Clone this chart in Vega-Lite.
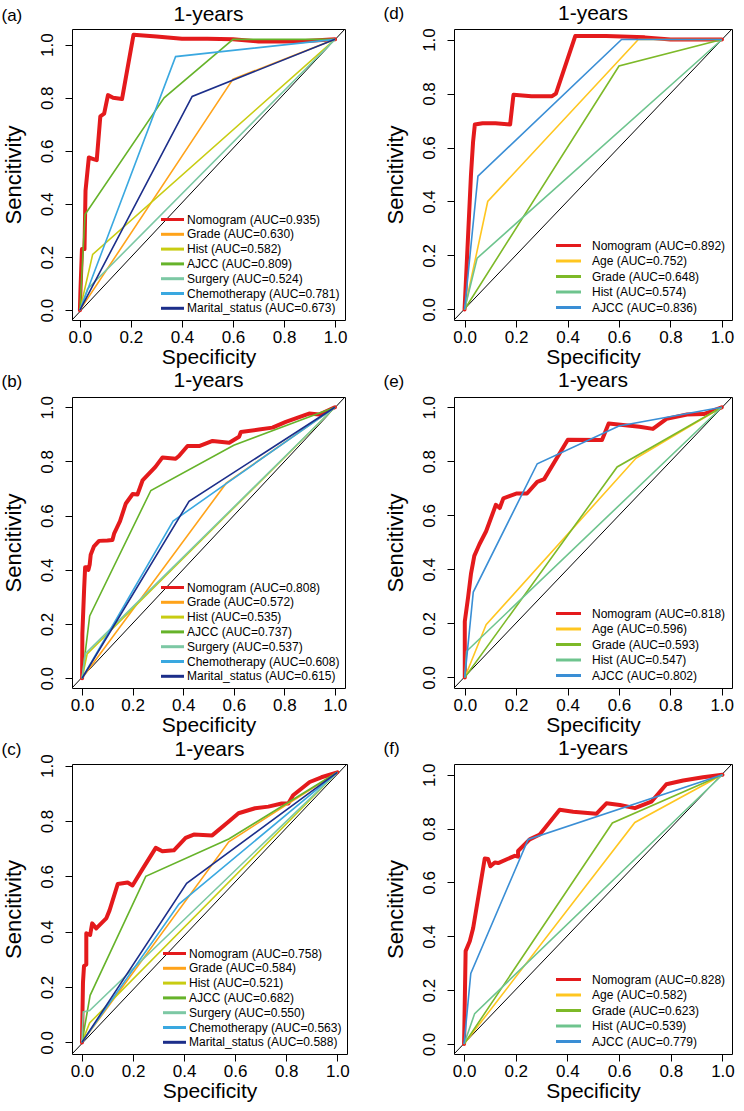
{
"$schema": "https://vega.github.io/schema/vega-lite/v6.json",
"background": "white",
"padding": {"left": 1, "top": 2, "right": 0, "bottom": 0},
"datasets": {
"diag_a": [{"x": -0.031, "y": -0.037}, {"x": 1.039, "y": 1.059}],
"diag_b": [{"x": -0.04, "y": -0.036}, {"x": 1.04, "y": 1.038}],
"diag_c": [{"x": -0.039, "y": -0.042}, {"x": 1.038, "y": 1.006}],
"diag_d": [{"x": -0.041, "y": -0.039}, {"x": 1.039, "y": 1.039}],
"diag_e": [{"x": -0.042, "y": -0.039}, {"x": 1.04, "y": 1.038}],
"diag_f": [{"x": -0.039, "y": -0.037}, {"x": 1.037, "y": 1.04}],
"a": [
{"s":"Nomogram (AUC=0.935)","i":0,"x":0,"y":0},
{"s":"Nomogram (AUC=0.935)","i":1,"x":0.002,"y":0.07},
{"s":"Nomogram (AUC=0.935)","i":2,"x":0.008,"y":0.23},
{"s":"Nomogram (AUC=0.935)","i":3,"x":0.018,"y":0.23},
{"s":"Nomogram (AUC=0.935)","i":4,"x":0.022,"y":0.45},
{"s":"Nomogram (AUC=0.935)","i":5,"x":0.035,"y":0.575},
{"s":"Nomogram (AUC=0.935)","i":6,"x":0.05,"y":0.57},
{"s":"Nomogram (AUC=0.935)","i":7,"x":0.066,"y":0.565},
{"s":"Nomogram (AUC=0.935)","i":8,"x":0.08,"y":0.73},
{"s":"Nomogram (AUC=0.935)","i":9,"x":0.095,"y":0.74},
{"s":"Nomogram (AUC=0.935)","i":10,"x":0.11,"y":0.81},
{"s":"Nomogram (AUC=0.935)","i":11,"x":0.13,"y":0.8},
{"s":"Nomogram (AUC=0.935)","i":12,"x":0.165,"y":0.795},
{"s":"Nomogram (AUC=0.935)","i":13,"x":0.21,"y":1.037},
{"s":"Nomogram (AUC=0.935)","i":14,"x":0.3,"y":1.031},
{"s":"Nomogram (AUC=0.935)","i":15,"x":0.4,"y":1.022},
{"s":"Nomogram (AUC=0.935)","i":16,"x":0.5,"y":1.022},
{"s":"Nomogram (AUC=0.935)","i":17,"x":0.6,"y":1.02},
{"s":"Nomogram (AUC=0.935)","i":18,"x":0.7,"y":1.012},
{"s":"Nomogram (AUC=0.935)","i":19,"x":0.85,"y":1.012},
{"s":"Nomogram (AUC=0.935)","i":20,"x":1,"y":1.02},
{"s":"Grade (AUC=0.630)","i":0,"x":0,"y":0},
{"s":"Grade (AUC=0.630)","i":1,"x":0.6,"y":0.87},
{"s":"Grade (AUC=0.630)","i":2,"x":1,"y":1.02},
{"s":"Hist (AUC=0.582)","i":0,"x":0,"y":0},
{"s":"Hist (AUC=0.582)","i":1,"x":0.05,"y":0.21},
{"s":"Hist (AUC=0.582)","i":2,"x":1,"y":1.02},
{"s":"AJCC (AUC=0.809)","i":0,"x":0,"y":0},
{"s":"AJCC (AUC=0.809)","i":1,"x":0.02,"y":0.36},
{"s":"AJCC (AUC=0.809)","i":2,"x":0.33,"y":0.8},
{"s":"AJCC (AUC=0.809)","i":3,"x":0.6,"y":1.02},
{"s":"AJCC (AUC=0.809)","i":4,"x":1,"y":1.02},
{"s":"Surgery (AUC=0.524)","i":0,"x":0,"y":0},
{"s":"Surgery (AUC=0.524)","i":1,"x":0.03,"y":0.08},
{"s":"Surgery (AUC=0.524)","i":2,"x":1,"y":1.02},
{"s":"Chemotherapy (AUC=0.781)","i":0,"x":0,"y":0},
{"s":"Chemotherapy (AUC=0.781)","i":1,"x":0.375,"y":0.955},
{"s":"Chemotherapy (AUC=0.781)","i":2,"x":1,"y":1.02},
{"s":"Marital_status (AUC=0.673)","i":0,"x":0,"y":0},
{"s":"Marital_status (AUC=0.673)","i":1,"x":0.44,"y":0.805},
{"s":"Marital_status (AUC=0.673)","i":2,"x":1,"y":1.02}
],
"b": [
{"s":"Nomogram (AUC=0.808)","i":0,"x":0,"y":0},
{"s":"Nomogram (AUC=0.808)","i":1,"x":0.001,"y":0.164},
{"s":"Nomogram (AUC=0.808)","i":2,"x":0.008,"y":0.33},
{"s":"Nomogram (AUC=0.808)","i":3,"x":0.012,"y":0.41},
{"s":"Nomogram (AUC=0.808)","i":4,"x":0.02,"y":0.41},
{"s":"Nomogram (AUC=0.808)","i":5,"x":0.025,"y":0.4},
{"s":"Nomogram (AUC=0.808)","i":6,"x":0.03,"y":0.42},
{"s":"Nomogram (AUC=0.808)","i":7,"x":0.034,"y":0.456},
{"s":"Nomogram (AUC=0.808)","i":8,"x":0.047,"y":0.487},
{"s":"Nomogram (AUC=0.808)","i":9,"x":0.067,"y":0.507},
{"s":"Nomogram (AUC=0.808)","i":10,"x":0.1,"y":0.508},
{"s":"Nomogram (AUC=0.808)","i":11,"x":0.12,"y":0.51},
{"s":"Nomogram (AUC=0.808)","i":12,"x":0.127,"y":0.535},
{"s":"Nomogram (AUC=0.808)","i":13,"x":0.15,"y":0.58},
{"s":"Nomogram (AUC=0.808)","i":14,"x":0.173,"y":0.645},
{"s":"Nomogram (AUC=0.808)","i":15,"x":0.2,"y":0.68},
{"s":"Nomogram (AUC=0.808)","i":16,"x":0.219,"y":0.678},
{"s":"Nomogram (AUC=0.808)","i":17,"x":0.239,"y":0.73},
{"s":"Nomogram (AUC=0.808)","i":18,"x":0.29,"y":0.78},
{"s":"Nomogram (AUC=0.808)","i":19,"x":0.318,"y":0.815},
{"s":"Nomogram (AUC=0.808)","i":20,"x":0.37,"y":0.81},
{"s":"Nomogram (AUC=0.808)","i":21,"x":0.383,"y":0.82},
{"s":"Nomogram (AUC=0.808)","i":22,"x":0.417,"y":0.857},
{"s":"Nomogram (AUC=0.808)","i":23,"x":0.463,"y":0.857},
{"s":"Nomogram (AUC=0.808)","i":24,"x":0.516,"y":0.876},
{"s":"Nomogram (AUC=0.808)","i":25,"x":0.582,"y":0.869},
{"s":"Nomogram (AUC=0.808)","i":26,"x":0.621,"y":0.891},
{"s":"Nomogram (AUC=0.808)","i":27,"x":0.628,"y":0.909},
{"s":"Nomogram (AUC=0.808)","i":28,"x":0.7,"y":0.918},
{"s":"Nomogram (AUC=0.808)","i":29,"x":0.753,"y":0.925},
{"s":"Nomogram (AUC=0.808)","i":30,"x":0.806,"y":0.946},
{"s":"Nomogram (AUC=0.808)","i":31,"x":0.898,"y":0.977},
{"s":"Nomogram (AUC=0.808)","i":32,"x":0.938,"y":0.973},
{"s":"Nomogram (AUC=0.808)","i":33,"x":1,"y":1},
{"s":"Grade (AUC=0.572)","i":0,"x":0,"y":0},
{"s":"Grade (AUC=0.572)","i":1,"x":0.57,"y":0.72},
{"s":"Grade (AUC=0.572)","i":2,"x":1,"y":1},
{"s":"Hist (AUC=0.535)","i":0,"x":0,"y":0},
{"s":"Hist (AUC=0.535)","i":1,"x":0.02,"y":0.09},
{"s":"Hist (AUC=0.535)","i":2,"x":1,"y":1},
{"s":"AJCC (AUC=0.737)","i":0,"x":0,"y":0},
{"s":"AJCC (AUC=0.737)","i":1,"x":0.03,"y":0.23},
{"s":"AJCC (AUC=0.737)","i":2,"x":0.272,"y":0.693},
{"s":"AJCC (AUC=0.737)","i":3,"x":0.6,"y":0.86},
{"s":"AJCC (AUC=0.737)","i":4,"x":1,"y":1},
{"s":"Surgery (AUC=0.537)","i":0,"x":0,"y":0},
{"s":"Surgery (AUC=0.537)","i":1,"x":0.012,"y":0.09},
{"s":"Surgery (AUC=0.537)","i":2,"x":1,"y":1},
{"s":"Chemotherapy (AUC=0.608)","i":0,"x":0,"y":0},
{"s":"Chemotherapy (AUC=0.608)","i":1,"x":0.36,"y":0.58},
{"s":"Chemotherapy (AUC=0.608)","i":2,"x":0.58,"y":0.725},
{"s":"Chemotherapy (AUC=0.608)","i":3,"x":1,"y":1},
{"s":"Marital_status (AUC=0.615)","i":0,"x":0,"y":0},
{"s":"Marital_status (AUC=0.615)","i":1,"x":0.423,"y":0.653},
{"s":"Marital_status (AUC=0.615)","i":2,"x":1,"y":1}
],
"c": [
{"s":"Nomogram (AUC=0.758)","i":0,"x":0,"y":0},
{"s":"Nomogram (AUC=0.758)","i":1,"x":0.004,"y":0.216},
{"s":"Nomogram (AUC=0.758)","i":2,"x":0.008,"y":0.276},
{"s":"Nomogram (AUC=0.758)","i":3,"x":0.017,"y":0.281},
{"s":"Nomogram (AUC=0.758)","i":4,"x":0.017,"y":0.394},
{"s":"Nomogram (AUC=0.758)","i":5,"x":0.032,"y":0.388},
{"s":"Nomogram (AUC=0.758)","i":6,"x":0.04,"y":0.43},
{"s":"Nomogram (AUC=0.758)","i":7,"x":0.056,"y":0.412},
{"s":"Nomogram (AUC=0.758)","i":8,"x":0.095,"y":0.448},
{"s":"Nomogram (AUC=0.758)","i":9,"x":0.108,"y":0.477},
{"s":"Nomogram (AUC=0.758)","i":10,"x":0.14,"y":0.572},
{"s":"Nomogram (AUC=0.758)","i":11,"x":0.179,"y":0.578},
{"s":"Nomogram (AUC=0.758)","i":12,"x":0.198,"y":0.567},
{"s":"Nomogram (AUC=0.758)","i":13,"x":0.237,"y":0.626},
{"s":"Nomogram (AUC=0.758)","i":14,"x":0.289,"y":0.703},
{"s":"Nomogram (AUC=0.758)","i":15,"x":0.315,"y":0.691},
{"s":"Nomogram (AUC=0.758)","i":16,"x":0.36,"y":0.694},
{"s":"Nomogram (AUC=0.758)","i":17,"x":0.406,"y":0.739},
{"s":"Nomogram (AUC=0.758)","i":18,"x":0.438,"y":0.751},
{"s":"Nomogram (AUC=0.758)","i":19,"x":0.51,"y":0.748},
{"s":"Nomogram (AUC=0.758)","i":20,"x":0.575,"y":0.798},
{"s":"Nomogram (AUC=0.758)","i":21,"x":0.613,"y":0.828},
{"s":"Nomogram (AUC=0.758)","i":22,"x":0.678,"y":0.846},
{"s":"Nomogram (AUC=0.758)","i":23,"x":0.73,"y":0.852},
{"s":"Nomogram (AUC=0.758)","i":24,"x":0.782,"y":0.863},
{"s":"Nomogram (AUC=0.758)","i":25,"x":0.808,"y":0.863},
{"s":"Nomogram (AUC=0.758)","i":26,"x":0.827,"y":0.893},
{"s":"Nomogram (AUC=0.758)","i":27,"x":0.892,"y":0.941},
{"s":"Nomogram (AUC=0.758)","i":28,"x":0.938,"y":0.958},
{"s":"Nomogram (AUC=0.758)","i":29,"x":1,"y":0.976},
{"s":"Grade (AUC=0.584)","i":0,"x":0,"y":0},
{"s":"Grade (AUC=0.584)","i":1,"x":0.575,"y":0.725},
{"s":"Grade (AUC=0.584)","i":2,"x":1,"y":0.976},
{"s":"Hist (AUC=0.521)","i":0,"x":0,"y":0},
{"s":"Hist (AUC=0.521)","i":1,"x":0.03,"y":0.07},
{"s":"Hist (AUC=0.521)","i":2,"x":1,"y":0.976},
{"s":"AJCC (AUC=0.682)","i":0,"x":0,"y":0},
{"s":"AJCC (AUC=0.682)","i":1,"x":0.032,"y":0.17},
{"s":"AJCC (AUC=0.682)","i":2,"x":0.25,"y":0.6},
{"s":"AJCC (AUC=0.682)","i":3,"x":0.575,"y":0.735},
{"s":"AJCC (AUC=0.682)","i":4,"x":1,"y":0.976},
{"s":"Surgery (AUC=0.550)","i":0,"x":0,"y":0},
{"s":"Surgery (AUC=0.550)","i":1,"x":0.005,"y":0.11},
{"s":"Surgery (AUC=0.550)","i":2,"x":0.03,"y":0.115},
{"s":"Surgery (AUC=0.550)","i":3,"x":1,"y":0.976},
{"s":"Chemotherapy (AUC=0.563)","i":0,"x":0,"y":0},
{"s":"Chemotherapy (AUC=0.563)","i":1,"x":0.38,"y":0.5},
{"s":"Chemotherapy (AUC=0.563)","i":2,"x":1,"y":0.976},
{"s":"Marital_status (AUC=0.588)","i":0,"x":0,"y":0},
{"s":"Marital_status (AUC=0.588)","i":1,"x":0.41,"y":0.575},
{"s":"Marital_status (AUC=0.588)","i":2,"x":1,"y":0.976}
],
"d": [
{"s":"Nomogram (AUC=0.892)","i":0,"x":0,"y":0},
{"s":"Nomogram (AUC=0.892)","i":1,"x":0.01,"y":0.2},
{"s":"Nomogram (AUC=0.892)","i":2,"x":0.025,"y":0.5},
{"s":"Nomogram (AUC=0.892)","i":3,"x":0.033,"y":0.62},
{"s":"Nomogram (AUC=0.892)","i":4,"x":0.04,"y":0.685},
{"s":"Nomogram (AUC=0.892)","i":5,"x":0.07,"y":0.69},
{"s":"Nomogram (AUC=0.892)","i":6,"x":0.12,"y":0.69},
{"s":"Nomogram (AUC=0.892)","i":7,"x":0.177,"y":0.685},
{"s":"Nomogram (AUC=0.892)","i":8,"x":0.19,"y":0.795},
{"s":"Nomogram (AUC=0.892)","i":9,"x":0.26,"y":0.79},
{"s":"Nomogram (AUC=0.892)","i":10,"x":0.34,"y":0.79},
{"s":"Nomogram (AUC=0.892)","i":11,"x":0.355,"y":0.8},
{"s":"Nomogram (AUC=0.892)","i":12,"x":0.43,"y":1.013},
{"s":"Nomogram (AUC=0.892)","i":13,"x":0.55,"y":1.013},
{"s":"Nomogram (AUC=0.892)","i":14,"x":0.7,"y":1.008},
{"s":"Nomogram (AUC=0.892)","i":15,"x":0.8,"y":1.0},
{"s":"Nomogram (AUC=0.892)","i":16,"x":1,"y":1.0},
{"s":"Age (AUC=0.752)","i":0,"x":0,"y":0},
{"s":"Age (AUC=0.752)","i":1,"x":0.09,"y":0.4},
{"s":"Age (AUC=0.752)","i":2,"x":0.675,"y":1.0},
{"s":"Age (AUC=0.752)","i":3,"x":1,"y":1.0},
{"s":"Grade (AUC=0.648)","i":0,"x":0,"y":0},
{"s":"Grade (AUC=0.648)","i":1,"x":0.6,"y":0.902},
{"s":"Grade (AUC=0.648)","i":2,"x":1,"y":1.0},
{"s":"Hist (AUC=0.574)","i":0,"x":0,"y":0},
{"s":"Hist (AUC=0.574)","i":1,"x":0.049,"y":0.19},
{"s":"Hist (AUC=0.574)","i":2,"x":1,"y":1.0},
{"s":"AJCC (AUC=0.836)","i":0,"x":0,"y":0},
{"s":"AJCC (AUC=0.836)","i":1,"x":0.052,"y":0.494},
{"s":"AJCC (AUC=0.836)","i":2,"x":0.61,"y":1.0},
{"s":"AJCC (AUC=0.836)","i":3,"x":1,"y":1.0}
],
"e": [
{"s":"Nomogram (AUC=0.818)","i":0,"x":0,"y":0},
{"s":"Nomogram (AUC=0.818)","i":1,"x":0,"y":0.207},
{"s":"Nomogram (AUC=0.818)","i":2,"x":0.013,"y":0.298},
{"s":"Nomogram (AUC=0.818)","i":3,"x":0.024,"y":0.383},
{"s":"Nomogram (AUC=0.818)","i":4,"x":0.037,"y":0.45},
{"s":"Nomogram (AUC=0.818)","i":5,"x":0.057,"y":0.493},
{"s":"Nomogram (AUC=0.818)","i":6,"x":0.083,"y":0.541},
{"s":"Nomogram (AUC=0.818)","i":7,"x":0.121,"y":0.639},
{"s":"Nomogram (AUC=0.818)","i":8,"x":0.136,"y":0.627},
{"s":"Nomogram (AUC=0.818)","i":9,"x":0.15,"y":0.663},
{"s":"Nomogram (AUC=0.818)","i":10,"x":0.203,"y":0.681},
{"s":"Nomogram (AUC=0.818)","i":11,"x":0.242,"y":0.681},
{"s":"Nomogram (AUC=0.818)","i":12,"x":0.282,"y":0.724},
{"s":"Nomogram (AUC=0.818)","i":13,"x":0.309,"y":0.734},
{"s":"Nomogram (AUC=0.818)","i":14,"x":0.401,"y":0.88},
{"s":"Nomogram (AUC=0.818)","i":15,"x":0.534,"y":0.879},
{"s":"Nomogram (AUC=0.818)","i":16,"x":0.56,"y":0.94},
{"s":"Nomogram (AUC=0.818)","i":17,"x":0.68,"y":0.928},
{"s":"Nomogram (AUC=0.818)","i":18,"x":0.732,"y":0.92},
{"s":"Nomogram (AUC=0.818)","i":19,"x":0.785,"y":0.957},
{"s":"Nomogram (AUC=0.818)","i":20,"x":0.865,"y":0.973},
{"s":"Nomogram (AUC=0.818)","i":21,"x":0.93,"y":0.975},
{"s":"Nomogram (AUC=0.818)","i":22,"x":1,"y":1},
{"s":"Age (AUC=0.596)","i":0,"x":0,"y":0},
{"s":"Age (AUC=0.596)","i":1,"x":0.083,"y":0.195},
{"s":"Age (AUC=0.596)","i":2,"x":0.666,"y":0.811},
{"s":"Age (AUC=0.596)","i":3,"x":1,"y":1},
{"s":"Grade (AUC=0.593)","i":0,"x":0,"y":0},
{"s":"Grade (AUC=0.593)","i":1,"x":0.593,"y":0.779},
{"s":"Grade (AUC=0.593)","i":2,"x":1,"y":1},
{"s":"Hist (AUC=0.547)","i":0,"x":0,"y":0},
{"s":"Hist (AUC=0.547)","i":1,"x":0.007,"y":0.097},
{"s":"Hist (AUC=0.547)","i":2,"x":1,"y":1},
{"s":"AJCC (AUC=0.802)","i":0,"x":0,"y":0},
{"s":"AJCC (AUC=0.802)","i":1,"x":0.033,"y":0.316},
{"s":"AJCC (AUC=0.802)","i":2,"x":0.282,"y":0.791},
{"s":"AJCC (AUC=0.802)","i":3,"x":0.6,"y":0.931},
{"s":"AJCC (AUC=0.802)","i":4,"x":1,"y":1}
],
"f": [
{"s":"Nomogram (AUC=0.828)","i":0,"x":0,"y":0},
{"s":"Nomogram (AUC=0.828)","i":1,"x":0.006,"y":0.345},
{"s":"Nomogram (AUC=0.828)","i":2,"x":0.022,"y":0.382},
{"s":"Nomogram (AUC=0.828)","i":3,"x":0.035,"y":0.43},
{"s":"Nomogram (AUC=0.828)","i":4,"x":0.08,"y":0.689},
{"s":"Nomogram (AUC=0.828)","i":5,"x":0.093,"y":0.687},
{"s":"Nomogram (AUC=0.828)","i":6,"x":0.102,"y":0.66},
{"s":"Nomogram (AUC=0.828)","i":7,"x":0.119,"y":0.674},
{"s":"Nomogram (AUC=0.828)","i":8,"x":0.132,"y":0.672},
{"s":"Nomogram (AUC=0.828)","i":9,"x":0.196,"y":0.699},
{"s":"Nomogram (AUC=0.828)","i":10,"x":0.209,"y":0.696},
{"s":"Nomogram (AUC=0.828)","i":11,"x":0.209,"y":0.717},
{"s":"Nomogram (AUC=0.828)","i":12,"x":0.254,"y":0.76},
{"s":"Nomogram (AUC=0.828)","i":13,"x":0.293,"y":0.778},
{"s":"Nomogram (AUC=0.828)","i":14,"x":0.37,"y":0.87},
{"s":"Nomogram (AUC=0.828)","i":15,"x":0.422,"y":0.863},
{"s":"Nomogram (AUC=0.828)","i":16,"x":0.512,"y":0.855},
{"s":"Nomogram (AUC=0.828)","i":17,"x":0.551,"y":0.894},
{"s":"Nomogram (AUC=0.828)","i":18,"x":0.603,"y":0.888},
{"s":"Nomogram (AUC=0.828)","i":19,"x":0.661,"y":0.876},
{"s":"Nomogram (AUC=0.828)","i":20,"x":0.725,"y":0.9},
{"s":"Nomogram (AUC=0.828)","i":21,"x":0.783,"y":0.965},
{"s":"Nomogram (AUC=0.828)","i":22,"x":0.848,"y":0.979},
{"s":"Nomogram (AUC=0.828)","i":23,"x":0.925,"y":0.991},
{"s":"Nomogram (AUC=0.828)","i":24,"x":1,"y":1},
{"s":"Age (AUC=0.582)","i":0,"x":0,"y":0},
{"s":"Age (AUC=0.582)","i":1,"x":0.661,"y":0.823},
{"s":"Age (AUC=0.582)","i":2,"x":1,"y":1},
{"s":"Grade (AUC=0.623)","i":0,"x":0,"y":0},
{"s":"Grade (AUC=0.623)","i":1,"x":0.574,"y":0.821},
{"s":"Grade (AUC=0.623)","i":2,"x":1,"y":1},
{"s":"Hist (AUC=0.539)","i":0,"x":0,"y":0},
{"s":"Hist (AUC=0.539)","i":1,"x":0.041,"y":0.113},
{"s":"Hist (AUC=0.539)","i":2,"x":1,"y":1},
{"s":"AJCC (AUC=0.779)","i":0,"x":0,"y":0},
{"s":"AJCC (AUC=0.779)","i":1,"x":0.026,"y":0.262},
{"s":"AJCC (AUC=0.779)","i":2,"x":0.248,"y":0.76},
{"s":"AJCC (AUC=0.779)","i":3,"x":1,"y":1}
]
},
"columns": 2,
"spacing": {"row": 1, "column": 33},
"resolve": {"scale": {"x": "independent", "y": "independent", "color": "independent"}, "axis": {"x": "independent", "y": "independent"}, "legend": {"color": "independent"}},
"concat": [
{
"title": {"text": "(a)", "anchor": "start", "frame": "bounds", "offset": -21, "fontSize": 17},
"resolve": {"scale": {"color": "independent"}, "legend": {"color": "independent"}},
"vconcat": [{
"width": 273, "height": 291, "title": "1-years",
"layer": [
{"data": {"name": "diag_a"}, "mark": {"type": "line", "color": "black", "strokeWidth": 1, "clip": true},
 "encoding": {"x": {"field": "x", "type": "quantitative", "title": "Specificity", "scale": {"domain": [-0.031, 1.039], "nice": false, "zero": false}, "axis": {"values": [0, 0.2, 0.4, 0.6, 0.8, 1]}},
  "y": {"field": "y", "type": "quantitative", "title": "Sencitivity", "scale": {"domain": [-0.037, 1.059], "nice": false, "zero": false}, "axis": {"values": [0, 0.2, 0.4, 0.6, 0.8, 1]}}}},
{"data": {"name": "a"}, "transform": [{"filter": "indexof(datum.s, 'Nomogram') === 0"}],
 "mark": {"type": "line", "strokeWidth": 4, "clip": true, "strokeJoin": "round", "strokeCap": "round"},
 "encoding": {"x": {"field": "x", "type": "quantitative", "title": "Specificity", "scale": {"domain": [-0.031, 1.039], "nice": false, "zero": false}, "axis": {"values": [0, 0.2, 0.4, 0.6, 0.8, 1]}},
  "y": {"field": "y", "type": "quantitative", "title": "Sencitivity", "scale": {"domain": [-0.037, 1.059], "nice": false, "zero": false}, "axis": {"values": [0, 0.2, 0.4, 0.6, 0.8, 1]}},
  "order": {"field": "i"},
  "color": {"field": "s", "type": "nominal", "title": null, "scale": {"domain": ["Nomogram (AUC=0.935)","Grade (AUC=0.630)","Hist (AUC=0.582)","AJCC (AUC=0.809)","Surgery (AUC=0.524)","Chemotherapy (AUC=0.781)","Marital_status (AUC=0.673)"], "range": ["#E41A1C","#FFA31A","#C8CC12","#66B32A","#7CC8A4","#3AA8E0","#1C2E8A"]},
   "legend": {"orient": "bottom-right", "symbolType": "M-2.3,0H2.3", "labelOffset": 8, "rowPadding": 1.8, "offset": 5}}}},
{"data": {"name": "a"}, "transform": [{"filter": "indexof(datum.s, 'Nomogram') !== 0"}],
 "mark": {"type": "line", "strokeWidth": 1.6, "clip": true},
 "encoding": {"x": {"field": "x", "type": "quantitative", "title": "Specificity", "scale": {"domain": [-0.031, 1.039], "nice": false, "zero": false}, "axis": {"values": [0, 0.2, 0.4, 0.6, 0.8, 1]}},
  "y": {"field": "y", "type": "quantitative", "title": "Sencitivity", "scale": {"domain": [-0.037, 1.059], "nice": false, "zero": false}, "axis": {"values": [0, 0.2, 0.4, 0.6, 0.8, 1]}},
  "order": {"field": "i"},
  "color": {"field": "s", "type": "nominal", "title": null, "scale": {"domain": ["Nomogram (AUC=0.935)","Grade (AUC=0.630)","Hist (AUC=0.582)","AJCC (AUC=0.809)","Surgery (AUC=0.524)","Chemotherapy (AUC=0.781)","Marital_status (AUC=0.673)"], "range": ["#E41A1C","#FFA31A","#C8CC12","#66B32A","#7CC8A4","#3AA8E0","#1C2E8A"]},
   "legend": {"orient": "bottom-right", "symbolType": "M-2.3,0H2.3", "labelOffset": 8, "rowPadding": 1.8, "offset": 5}}}}
]}]
},
{
"title": {"text": "(d)", "anchor": "start", "frame": "bounds", "offset": -21, "fontSize": 17},
"resolve": {"scale": {"color": "independent"}, "legend": {"color": "independent"}},
"vconcat": [{
"width": 278, "height": 291, "title": "1-years",
"layer": [
{"data": {"name": "diag_d"}, "mark": {"type": "line", "color": "black", "strokeWidth": 1, "clip": true},
 "encoding": {"x": {"field": "x", "type": "quantitative", "title": "Specificity", "scale": {"domain": [-0.041, 1.039], "nice": false, "zero": false}, "axis": {"values": [0, 0.2, 0.4, 0.6, 0.8, 1]}},
  "y": {"field": "y", "type": "quantitative", "title": "Sencitivity", "scale": {"domain": [-0.039, 1.039], "nice": false, "zero": false}, "axis": {"values": [0, 0.2, 0.4, 0.6, 0.8, 1]}}}},
{"data": {"name": "d"}, "transform": [{"filter": "indexof(datum.s, 'Nomogram') === 0"}],
 "mark": {"type": "line", "strokeWidth": 4, "clip": true, "strokeJoin": "round", "strokeCap": "round"},
 "encoding": {"x": {"field": "x", "type": "quantitative", "title": "Specificity", "scale": {"domain": [-0.041, 1.039], "nice": false, "zero": false}, "axis": {"values": [0, 0.2, 0.4, 0.6, 0.8, 1]}},
  "y": {"field": "y", "type": "quantitative", "title": "Sencitivity", "scale": {"domain": [-0.039, 1.039], "nice": false, "zero": false}, "axis": {"values": [0, 0.2, 0.4, 0.6, 0.8, 1]}},
  "order": {"field": "i"},
  "color": {"field": "s", "type": "nominal", "title": null, "scale": {"domain": ["Nomogram (AUC=0.892)","Age (AUC=0.752)","Grade (AUC=0.648)","Hist (AUC=0.574)","AJCC (AUC=0.836)"], "range": ["#E41A1C","#FFC620","#7DB928","#6EC48E","#3A8ED5"]},
   "legend": {"orient": "bottom-right", "symbolType": "M-2.5,0H2.5", "labelOffset": 17, "rowPadding": 2.5, "offset": 6}}}},
{"data": {"name": "d"}, "transform": [{"filter": "indexof(datum.s, 'Nomogram') !== 0"}],
 "mark": {"type": "line", "strokeWidth": 1.6, "clip": true},
 "encoding": {"x": {"field": "x", "type": "quantitative", "title": "Specificity", "scale": {"domain": [-0.041, 1.039], "nice": false, "zero": false}, "axis": {"values": [0, 0.2, 0.4, 0.6, 0.8, 1]}},
  "y": {"field": "y", "type": "quantitative", "title": "Sencitivity", "scale": {"domain": [-0.039, 1.039], "nice": false, "zero": false}, "axis": {"values": [0, 0.2, 0.4, 0.6, 0.8, 1]}},
  "order": {"field": "i"},
  "color": {"field": "s", "type": "nominal", "title": null, "scale": {"domain": ["Nomogram (AUC=0.892)","Age (AUC=0.752)","Grade (AUC=0.648)","Hist (AUC=0.574)","AJCC (AUC=0.836)"], "range": ["#E41A1C","#FFC620","#7DB928","#6EC48E","#3A8ED5"]},
   "legend": {"orient": "bottom-right", "symbolType": "M-2.5,0H2.5", "labelOffset": 17, "rowPadding": 2.5, "offset": 6}}}}
]}]
},
{
"title": {"text": "(b)", "anchor": "start", "frame": "bounds", "offset": -21, "fontSize": 17},
"resolve": {"scale": {"color": "independent"}, "legend": {"color": "independent"}},
"vconcat": [{
"width": 273, "height": 291, "title": "1-years",
"layer": [
{"data": {"name": "diag_b"}, "mark": {"type": "line", "color": "black", "strokeWidth": 1, "clip": true},
 "encoding": {"x": {"field": "x", "type": "quantitative", "title": "Specificity", "scale": {"domain": [-0.04, 1.04], "nice": false, "zero": false}, "axis": {"values": [0, 0.2, 0.4, 0.6, 0.8, 1]}},
  "y": {"field": "y", "type": "quantitative", "title": "Sencitivity", "scale": {"domain": [-0.036, 1.038], "nice": false, "zero": false}, "axis": {"values": [0, 0.2, 0.4, 0.6, 0.8, 1]}}}},
{"data": {"name": "b"}, "transform": [{"filter": "indexof(datum.s, 'Nomogram') === 0"}],
 "mark": {"type": "line", "strokeWidth": 4, "clip": true, "strokeJoin": "round", "strokeCap": "round"},
 "encoding": {"x": {"field": "x", "type": "quantitative", "title": "Specificity", "scale": {"domain": [-0.04, 1.04], "nice": false, "zero": false}, "axis": {"values": [0, 0.2, 0.4, 0.6, 0.8, 1]}},
  "y": {"field": "y", "type": "quantitative", "title": "Sencitivity", "scale": {"domain": [-0.036, 1.038], "nice": false, "zero": false}, "axis": {"values": [0, 0.2, 0.4, 0.6, 0.8, 1]}},
  "order": {"field": "i"},
  "color": {"field": "s", "type": "nominal", "title": null, "scale": {"domain": ["Nomogram (AUC=0.808)","Grade (AUC=0.572)","Hist (AUC=0.535)","AJCC (AUC=0.737)","Surgery (AUC=0.537)","Chemotherapy (AUC=0.608)","Marital_status (AUC=0.615)"], "range": ["#E41A1C","#FFA31A","#C8CC12","#66B32A","#7CC8A4","#3AA8E0","#1C2E8A"]},
   "legend": {"orient": "bottom-right", "symbolType": "M-2.3,0H2.3", "labelOffset": 8, "rowPadding": 1.8, "offset": 5}}}},
{"data": {"name": "b"}, "transform": [{"filter": "indexof(datum.s, 'Nomogram') !== 0"}],
 "mark": {"type": "line", "strokeWidth": 1.6, "clip": true},
 "encoding": {"x": {"field": "x", "type": "quantitative", "title": "Specificity", "scale": {"domain": [-0.04, 1.04], "nice": false, "zero": false}, "axis": {"values": [0, 0.2, 0.4, 0.6, 0.8, 1]}},
  "y": {"field": "y", "type": "quantitative", "title": "Sencitivity", "scale": {"domain": [-0.036, 1.038], "nice": false, "zero": false}, "axis": {"values": [0, 0.2, 0.4, 0.6, 0.8, 1]}},
  "order": {"field": "i"},
  "color": {"field": "s", "type": "nominal", "title": null, "scale": {"domain": ["Nomogram (AUC=0.808)","Grade (AUC=0.572)","Hist (AUC=0.535)","AJCC (AUC=0.737)","Surgery (AUC=0.537)","Chemotherapy (AUC=0.608)","Marital_status (AUC=0.615)"], "range": ["#E41A1C","#FFA31A","#C8CC12","#66B32A","#7CC8A4","#3AA8E0","#1C2E8A"]},
   "legend": {"orient": "bottom-right", "symbolType": "M-2.3,0H2.3", "labelOffset": 8, "rowPadding": 1.8, "offset": 5}}}}
]}]
},
{
"title": {"text": "(e)", "anchor": "start", "frame": "bounds", "offset": -21, "fontSize": 17},
"resolve": {"scale": {"color": "independent"}, "legend": {"color": "independent"}},
"vconcat": [{
"width": 278, "height": 291, "title": "1-years",
"layer": [
{"data": {"name": "diag_e"}, "mark": {"type": "line", "color": "black", "strokeWidth": 1, "clip": true},
 "encoding": {"x": {"field": "x", "type": "quantitative", "title": "Specificity", "scale": {"domain": [-0.042, 1.04], "nice": false, "zero": false}, "axis": {"values": [0, 0.2, 0.4, 0.6, 0.8, 1]}},
  "y": {"field": "y", "type": "quantitative", "title": "Sencitivity", "scale": {"domain": [-0.039, 1.038], "nice": false, "zero": false}, "axis": {"values": [0, 0.2, 0.4, 0.6, 0.8, 1]}}}},
{"data": {"name": "e"}, "transform": [{"filter": "indexof(datum.s, 'Nomogram') === 0"}],
 "mark": {"type": "line", "strokeWidth": 4, "clip": true, "strokeJoin": "round", "strokeCap": "round"},
 "encoding": {"x": {"field": "x", "type": "quantitative", "title": "Specificity", "scale": {"domain": [-0.042, 1.04], "nice": false, "zero": false}, "axis": {"values": [0, 0.2, 0.4, 0.6, 0.8, 1]}},
  "y": {"field": "y", "type": "quantitative", "title": "Sencitivity", "scale": {"domain": [-0.039, 1.038], "nice": false, "zero": false}, "axis": {"values": [0, 0.2, 0.4, 0.6, 0.8, 1]}},
  "order": {"field": "i"},
  "color": {"field": "s", "type": "nominal", "title": null, "scale": {"domain": ["Nomogram (AUC=0.818)","Age (AUC=0.596)","Grade (AUC=0.593)","Hist (AUC=0.547)","AJCC (AUC=0.802)"], "range": ["#E41A1C","#FFC620","#7DB928","#6EC48E","#3A8ED5"]},
   "legend": {"orient": "bottom-right", "symbolType": "M-2.5,0H2.5", "labelOffset": 17, "rowPadding": 2.5, "offset": 6}}}},
{"data": {"name": "e"}, "transform": [{"filter": "indexof(datum.s, 'Nomogram') !== 0"}],
 "mark": {"type": "line", "strokeWidth": 1.6, "clip": true},
 "encoding": {"x": {"field": "x", "type": "quantitative", "title": "Specificity", "scale": {"domain": [-0.042, 1.04], "nice": false, "zero": false}, "axis": {"values": [0, 0.2, 0.4, 0.6, 0.8, 1]}},
  "y": {"field": "y", "type": "quantitative", "title": "Sencitivity", "scale": {"domain": [-0.039, 1.038], "nice": false, "zero": false}, "axis": {"values": [0, 0.2, 0.4, 0.6, 0.8, 1]}},
  "order": {"field": "i"},
  "color": {"field": "s", "type": "nominal", "title": null, "scale": {"domain": ["Nomogram (AUC=0.818)","Age (AUC=0.596)","Grade (AUC=0.593)","Hist (AUC=0.547)","AJCC (AUC=0.802)"], "range": ["#E41A1C","#FFC620","#7DB928","#6EC48E","#3A8ED5"]},
   "legend": {"orient": "bottom-right", "symbolType": "M-2.5,0H2.5", "labelOffset": 17, "rowPadding": 2.5, "offset": 6}}}}
]}]
},
{
"title": {"text": "(c)", "anchor": "start", "frame": "bounds", "offset": -21, "fontSize": 17},
"resolve": {"scale": {"color": "independent"}, "legend": {"color": "independent"}},
"vconcat": [{
"width": 275, "height": 290, "title": {"text": "1-years", "offset": -6},
"layer": [
{"data": {"name": "diag_c"}, "mark": {"type": "line", "color": "black", "strokeWidth": 1, "clip": true},
 "encoding": {"x": {"field": "x", "type": "quantitative", "title": "Specificity", "scale": {"domain": [-0.039, 1.038], "nice": false, "zero": false}, "axis": {"values": [0, 0.2, 0.4, 0.6, 0.8, 1]}},
  "y": {"field": "y", "type": "quantitative", "title": "Sencitivity", "scale": {"domain": [-0.042, 1.006], "nice": false, "zero": false}, "axis": {"values": [0, 0.2, 0.4, 0.6, 0.8, 1]}}}},
{"data": {"name": "c"}, "transform": [{"filter": "indexof(datum.s, 'Nomogram') === 0"}],
 "mark": {"type": "line", "strokeWidth": 4, "clip": true, "strokeJoin": "round", "strokeCap": "round"},
 "encoding": {"x": {"field": "x", "type": "quantitative", "title": "Specificity", "scale": {"domain": [-0.039, 1.038], "nice": false, "zero": false}, "axis": {"values": [0, 0.2, 0.4, 0.6, 0.8, 1]}},
  "y": {"field": "y", "type": "quantitative", "title": "Sencitivity", "scale": {"domain": [-0.042, 1.006], "nice": false, "zero": false}, "axis": {"values": [0, 0.2, 0.4, 0.6, 0.8, 1]}},
  "order": {"field": "i"},
  "color": {"field": "s", "type": "nominal", "title": null, "scale": {"domain": ["Nomogram (AUC=0.758)","Grade (AUC=0.584)","Hist (AUC=0.521)","AJCC (AUC=0.682)","Surgery (AUC=0.550)","Chemotherapy (AUC=0.563)","Marital_status (AUC=0.588)"], "range": ["#E41A1C","#FFA31A","#C8CC12","#66B32A","#7CC8A4","#3AA8E0","#1C2E8A"]},
   "legend": {"orient": "bottom-right", "symbolType": "M-2.3,0H2.3", "labelOffset": 8, "rowPadding": 1.8, "offset": 5}}}},
{"data": {"name": "c"}, "transform": [{"filter": "indexof(datum.s, 'Nomogram') !== 0"}],
 "mark": {"type": "line", "strokeWidth": 1.6, "clip": true},
 "encoding": {"x": {"field": "x", "type": "quantitative", "title": "Specificity", "scale": {"domain": [-0.039, 1.038], "nice": false, "zero": false}, "axis": {"values": [0, 0.2, 0.4, 0.6, 0.8, 1]}},
  "y": {"field": "y", "type": "quantitative", "title": "Sencitivity", "scale": {"domain": [-0.042, 1.006], "nice": false, "zero": false}, "axis": {"values": [0, 0.2, 0.4, 0.6, 0.8, 1]}},
  "order": {"field": "i"},
  "color": {"field": "s", "type": "nominal", "title": null, "scale": {"domain": ["Nomogram (AUC=0.758)","Grade (AUC=0.584)","Hist (AUC=0.521)","AJCC (AUC=0.682)","Surgery (AUC=0.550)","Chemotherapy (AUC=0.563)","Marital_status (AUC=0.588)"], "range": ["#E41A1C","#FFA31A","#C8CC12","#66B32A","#7CC8A4","#3AA8E0","#1C2E8A"]},
   "legend": {"orient": "bottom-right", "symbolType": "M-2.3,0H2.3", "labelOffset": 8, "rowPadding": 1.8, "offset": 5}}}}
]}]
},
{
"title": {"text": "(f)", "anchor": "start", "frame": "bounds", "offset": -21, "fontSize": 17},
"resolve": {"scale": {"color": "independent"}, "legend": {"color": "independent"}},
"vconcat": [{
"width": 278, "height": 290, "title": "1-years",
"layer": [
{"data": {"name": "diag_f"}, "mark": {"type": "line", "color": "black", "strokeWidth": 1, "clip": true},
 "encoding": {"x": {"field": "x", "type": "quantitative", "title": "Specificity", "scale": {"domain": [-0.039, 1.037], "nice": false, "zero": false}, "axis": {"values": [0, 0.2, 0.4, 0.6, 0.8, 1]}},
  "y": {"field": "y", "type": "quantitative", "title": "Sencitivity", "scale": {"domain": [-0.037, 1.04], "nice": false, "zero": false}, "axis": {"values": [0, 0.2, 0.4, 0.6, 0.8, 1]}}}},
{"data": {"name": "f"}, "transform": [{"filter": "indexof(datum.s, 'Nomogram') === 0"}],
 "mark": {"type": "line", "strokeWidth": 4, "clip": true, "strokeJoin": "round", "strokeCap": "round"},
 "encoding": {"x": {"field": "x", "type": "quantitative", "title": "Specificity", "scale": {"domain": [-0.039, 1.037], "nice": false, "zero": false}, "axis": {"values": [0, 0.2, 0.4, 0.6, 0.8, 1]}},
  "y": {"field": "y", "type": "quantitative", "title": "Sencitivity", "scale": {"domain": [-0.037, 1.04], "nice": false, "zero": false}, "axis": {"values": [0, 0.2, 0.4, 0.6, 0.8, 1]}},
  "order": {"field": "i"},
  "color": {"field": "s", "type": "nominal", "title": null, "scale": {"domain": ["Nomogram (AUC=0.828)","Age (AUC=0.582)","Grade (AUC=0.623)","Hist (AUC=0.539)","AJCC (AUC=0.779)"], "range": ["#E41A1C","#FFC620","#7DB928","#6EC48E","#3A8ED5"]},
   "legend": {"orient": "bottom-right", "symbolType": "M-2.5,0H2.5", "labelOffset": 17, "rowPadding": 2.5, "offset": 6}}}},
{"data": {"name": "f"}, "transform": [{"filter": "indexof(datum.s, 'Nomogram') !== 0"}],
 "mark": {"type": "line", "strokeWidth": 1.6, "clip": true},
 "encoding": {"x": {"field": "x", "type": "quantitative", "title": "Specificity", "scale": {"domain": [-0.039, 1.037], "nice": false, "zero": false}, "axis": {"values": [0, 0.2, 0.4, 0.6, 0.8, 1]}},
  "y": {"field": "y", "type": "quantitative", "title": "Sencitivity", "scale": {"domain": [-0.037, 1.04], "nice": false, "zero": false}, "axis": {"values": [0, 0.2, 0.4, 0.6, 0.8, 1]}},
  "order": {"field": "i"},
  "color": {"field": "s", "type": "nominal", "title": null, "scale": {"domain": ["Nomogram (AUC=0.828)","Age (AUC=0.582)","Grade (AUC=0.623)","Hist (AUC=0.539)","AJCC (AUC=0.779)"], "range": ["#E41A1C","#FFC620","#7DB928","#6EC48E","#3A8ED5"]},
   "legend": {"orient": "bottom-right", "symbolType": "M-2.5,0H2.5", "labelOffset": 17, "rowPadding": 2.5, "offset": 6}}}}
]}]
}
],
"config": {
"font": "Liberation Sans",
"view": {"stroke": "black", "strokeWidth": 1},
"title": {"fontSize": 21, "fontWeight": "normal", "color": "black", "font": "Liberation Sans", "offset": 4},
"axis": {"domain": false, "grid": false, "ticks": true, "tickColor": "black", "tickSize": 7, "tickWidth": 1, "labelFontSize": 17, "labelColor": "black", "labelFont": "Liberation Sans", "labelFlush": false, "labelOverlap": false, "labelBound": false, "format": ".1f", "titleFontSize": 22, "titleFontWeight": "normal", "titleColor": "black", "titleFont": "Liberation Sans"},
"axisX": {"labelPadding": 2, "titlePadding": 1, "titleFontSize": 21},
"axisY": {"labelAngle": -90, "labelAlign": "center", "labelBaseline": "bottom", "labelPadding": 9, "titlePadding": 13},
"legend": {"labelFontSize": 12, "labelFont": "Liberation Sans", "labelColor": "black", "symbolStrokeWidth": 3, "symbolSize": 100, "padding": 0, "labelLimit": 400, "symbolOpacity": 1}
}
}
